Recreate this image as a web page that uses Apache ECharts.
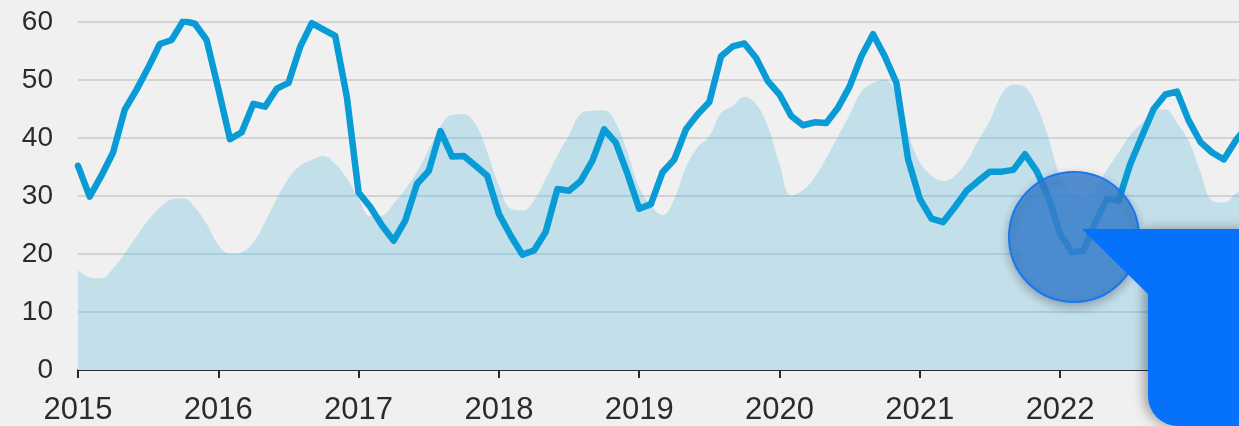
<!DOCTYPE html>
<html>
<head>
<meta charset="utf-8">
<script src="https://cdn.jsdelivr.net/npm/echarts@6/dist/echarts.min.js"></script>
<style>
html,body{margin:0;padding:0;background:#f0f0f0;}
#main{width:1239px;height:426px;}
</style>
</head>
<body>
<div id="main"></div>
<script>
// monthly readings starting January 2015
var startYear = 2015;
var yearTicks = [2015, 2016, 2017, 2018, 2019, 2020, 2021, 2022, 2023];
var yTicks = [0, 10, 20, 30, 40, 50, 60];

var lineValues = [
  35.2, 29.9, 33.5, 37.5, 44.9, 48.3, 52.1, 56.2, 56.9, 60.2, 59.7, 56.9,
  48.5, 39.8, 41.0, 45.9, 45.4, 48.5, 49.5, 55.7, 59.8, 58.7, 57.6, 47.0,
  30.6, 28.1, 24.9, 22.3, 25.8, 32.1, 34.3, 41.2, 36.8, 36.9, 35.2, 33.5,
  26.9, 23.2, 19.9, 20.6, 23.8, 31.2, 30.9, 32.6, 36.1, 41.5, 39.2, 33.8,
  27.8, 28.6, 34.1, 36.3, 41.5, 44.1, 46.2, 54.1, 55.8, 56.3, 53.8, 49.8,
  47.5, 43.8, 42.2, 42.7, 42.6, 45.2, 48.9, 54.1, 57.9, 54.1, 49.5, 36.3,
  29.5, 26.1, 25.5, 28.1, 30.9, 32.6, 34.2, 34.2, 34.5, 37.2, 34.3, 29.8,
  23.5, 20.3, 20.6, 25.4, 29.5, 29.2, 35.5, 40.3, 45.0, 47.5, 48.0, 43.0,
  39.3, 37.5, 36.3, 39.5, 42.0
];

var areaValues = [
  17.2, 16.0, 15.8, 17.5, 20.1, 23.0, 25.8, 28.0, 29.4, 29.6, 28.0, 25.2,
  21.6, 20.0, 20.3, 22.0, 25.5, 29.5, 33.0, 35.2, 36.2, 36.9, 35.5, 33.0,
  29.6, 26.5, 26.6, 28.7, 31.2, 34.2, 38.0, 42.0, 44.0, 44.1, 42.4, 37.6,
  31.8, 27.8, 27.5, 29.2, 33.0, 37.0, 40.5, 44.2, 44.7, 44.8, 42.6, 37.5,
  31.5, 28.3, 26.7, 29.5, 35.0, 38.4, 40.3, 44.3, 45.5, 47.1, 45.8, 42.0,
  35.5, 30.1, 31.0, 33.2, 36.5, 40.3, 44.0, 48.0, 49.5, 50.1, 47.5, 40.8,
  35.8, 33.5, 32.6, 33.5, 35.9, 39.6, 43.0, 47.6, 49.2, 48.8, 45.5, 40.0,
  33.5, 30.5, 29.6, 31.5, 34.5, 37.5, 40.5, 42.6, 44.5, 44.9, 42.6, 39.5,
  34.2, 29.2, 28.9, 30.4, 32.0
];

function toPoints(vals) {
  return vals.map(function (v, i) { return [startYear + i / 12, v]; });
}

var chart = echarts.init(document.getElementById('main'), null, {renderer: 'canvas'});

chart.setOption({
  backgroundColor: '#f0f0f0',
  animation: false,
  grid: {left: 78, right: 0, top: 22, bottom: 54},
  xAxis: {
    type: 'value',
    min: yearTicks[0],
    max: 2023.275,
    interval: 1,
    axisLine: {show: true, lineStyle: {color: '#2b2b2b', width: 2}},
    axisTick: {show: true, length: 8, lineStyle: {color: '#2b2b2b', width: 2}},
    splitLine: {show: false},
    axisLabel: {
      color: '#2b2b2b', fontSize: 31, fontFamily: 'Liberation Sans', margin: 25,
      showMaxLabel: false,
      formatter: function (v) { return yearTicks.indexOf(Math.round(v)) >= 0 ? String(Math.round(v)) : ''; }
    }
  },
  yAxis: {
    type: 'value',
    min: yTicks[0],
    max: yTicks[yTicks.length - 1],
    interval: 10,
    axisLine: {show: false},
    axisTick: {show: false},
    splitLine: {show: true, lineStyle: {color: '#cacaca', width: 1.5}},
    axisLabel: {color: '#2b2b2b', fontSize: 28, fontFamily: 'Liberation Sans', margin: 25}
  },
  series: [
    {
      type: 'line',
      data: toPoints(areaValues),
      smooth: 0.4,
      symbol: 'none',
      lineStyle: {width: 0},
      areaStyle: {color: '#c3dfea', opacity: 1, origin: 'start'},
      z: 1
    },
    {
      type: 'line',
      data: toPoints(lineValues),
      symbol: 'none',
      lineStyle: {color: '#089bd6', width: 6.5, cap: 'round', join: 'round'},
      z: 3
    }
  ],
  graphic: [
    {
      type: 'circle',
      shape: {cx: 1074, cy: 237, r: 65},
      style: {
        fill: 'rgba(58,132,214,0.8)', stroke: '#1a76f2', lineWidth: 2,
        shadowBlur: 10, shadowColor: 'rgba(0,0,0,0.3)', shadowOffsetY: 4
      },
      z: 100
    },
    {
      type: 'rect',
      shape: {x: 1148, y: 229, width: 110, height: 197, r: [0, 0, 0, 30]},
      style: {fill: '#0672fb', shadowBlur: 12, shadowColor: 'rgba(0,0,0,0.35)', shadowOffsetX: -4},
      z: 101
    },
    {
      type: 'polygon',
      shape: {points: [[1082, 229], [1150, 229], [1150, 296]]},
      style: {fill: '#0672fb'},
      z: 102
    }
  ]
});

// gridlines seen through the area are bluish: fill the area with a pattern
// carrying the same gridlines, placed with the axis scale
function areaPattern() {
  var c = document.createElement('canvas');
  c.width = 1239;
  c.height = 426;
  var ctx = c.getContext('2d');
  ctx.fillStyle = '#c3dfea';
  ctx.fillRect(0, 0, c.width, c.height);
  ctx.strokeStyle = '#a6cce0';
  ctx.lineWidth = 2;
  yTicks.forEach(function (v) {
    if (v === 0) return;
    var y = chart.convertToPixel({yAxisIndex: 0}, v);
    ctx.beginPath();
    ctx.moveTo(0, y);
    ctx.lineTo(c.width, y);
    ctx.stroke();
  });
  return {image: c, repeat: 'no-repeat'};
}

chart.setOption({series: [{areaStyle: {color: areaPattern()}}]});
</script>
</body>
</html>
